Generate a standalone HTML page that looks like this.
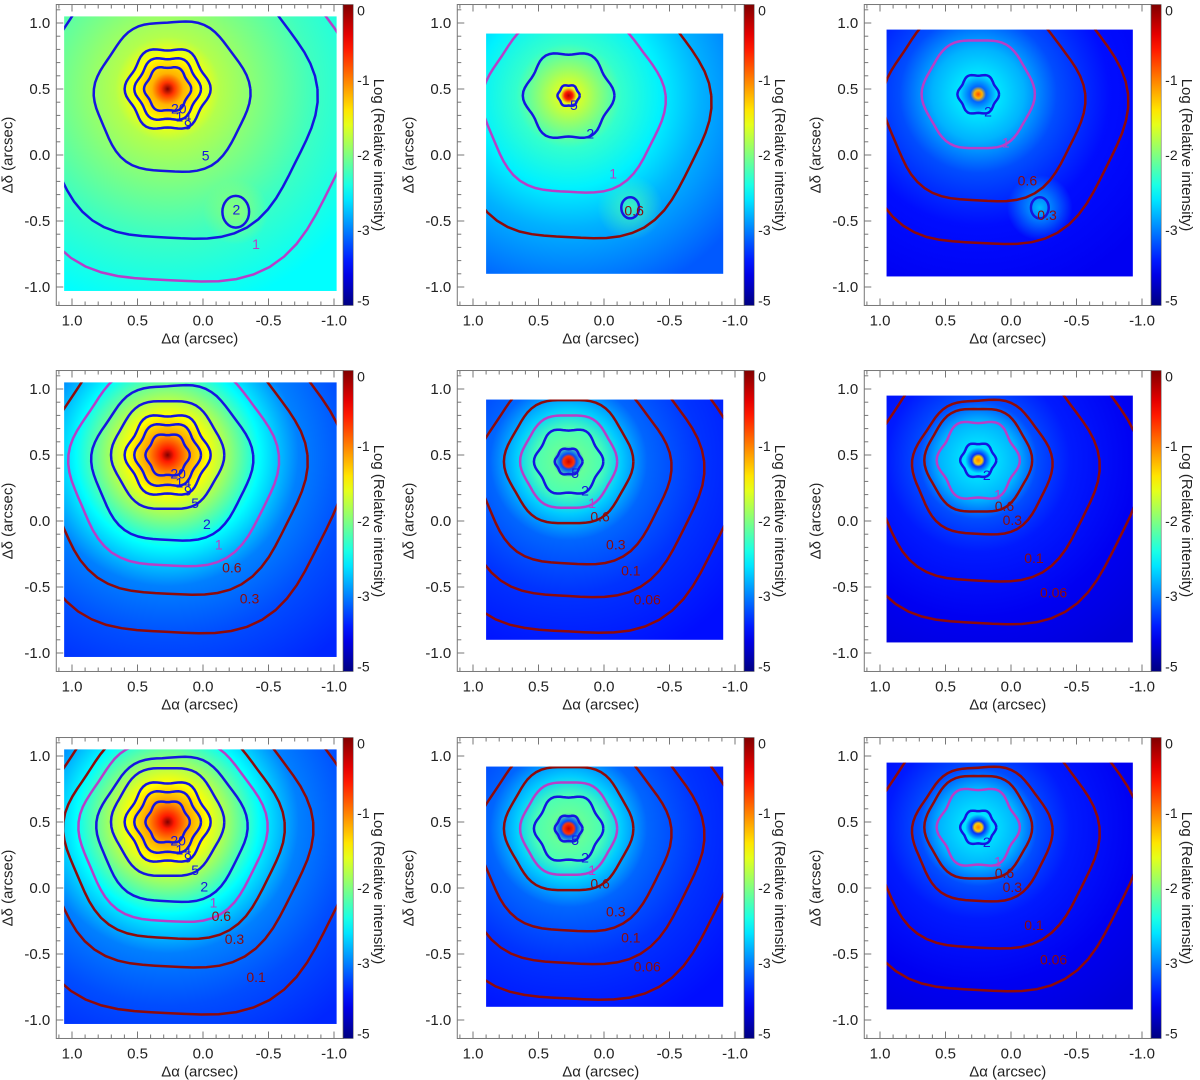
<!DOCTYPE html>
<html><head><meta charset="utf-8"><style>
html,body{margin:0;padding:0;background:#fff;}
svg{display:block;font-family:"Liberation Sans",sans-serif;}
</style></head><body>
<svg id="fig" width="1200" height="1080" viewBox="0 0 1200 1080" xmlns="http://www.w3.org/2000/svg"></svg>
<script>
// ---- data ----
const xTicks = [1.0, 0.5, 0.0, -0.5, -1.0];
const xTickLabels = ["1.0", "0.5", "0.0", "-0.5", "-1.0"];
const yTicks = [1.0, 0.5, 0.0, -0.5, -1.0];
const yTickLabels = ["1.0", "0.5", "0.0", "-0.5", "-1.0"];
const cbarLabels = ["0", "-1", "-2", "-3", "-5"];
const cbarValues = [0, -1, -2, -3, -5];
// star offsets (arcsec) per panel
const starX = [0.27, 0.27, 0.25, 0.27, 0.27, 0.25, 0.27, 0.27, 0.25];
const starY = [0.50, 0.45, 0.46, 0.50, 0.45, 0.46, 0.50, 0.45, 0.46];
// image extents per column [left, right, top, bottom] in arcsec
const extentCol1 = [1.06, -1.02, 1.05, -1.03];
const extentCol2 = [0.9, -0.91, 0.92, -0.90];
const extentCol3 = [0.95, -0.93, 0.95, -0.92];
// radial log-intensity profiles: radius (arcsec) / log value
const profR1 = [0, 0.05, 0.12, 0.25, 0.4, 0.7, 1.1, 1.7];
const profV1 = [0, -0.7, -1.2, -1.5, -1.8, -2.0, -2.25, -2.5];
const profR2 = [0, 0.03, 0.06, 0.2, 0.4, 0.7, 1.0, 1.6];
const profV2 = [-0.2, -0.6, -1.6, -1.9, -2.3, -2.55, -2.8, -3.3];
const profR3 = [0, 0.03, 0.06, 0.15, 0.35, 0.6, 1.0, 1.6];
const profV3 = [-0.8, -1.2, -3.2, -2.6, -2.8, -3.4, -3.9, -4.1];
const profR4 = [0, 0.05, 0.15, 0.3, 0.5, 0.7, 1.0, 1.4, 1.9];
const profV4 = [0, -0.6, -1.1, -1.5, -2.0, -2.5, -3.0, -3.4, -3.7];
const profR5 = [0, 0.04, 0.06, 0.12, 0.25, 0.4, 0.6, 1.0, 1.6];
const profV5 = [-0.3, -0.7, -3.4, -2.1, -2.2, -2.7, -3.2, -3.6, -3.9];
const profR6 = [0, 0.03, 0.05, 0.1, 0.3, 0.45, 0.7, 1.2, 1.7];
const profV6 = [-1.0, -1.3, -3.6, -2.6, -2.8, -3.4, -3.8, -4.1, -4.3];
// contours per panel
const contLevels = [
 ["20","14","9","5","2","1"],
 ["5","2","1","0.6"],
 ["2","1","0.6","0.3"],
 ["20","14","9","5","2","1","0.6","0.3"],
 ["5","2","1","0.6","0.3","0.1","0.06"],
 ["2","1","0.6","0.3","0.1","0.06"],
 ["20","14","9","5","2","1","0.6","0.3","0.1"],
 ["5","2","1","0.6","0.3","0.1","0.06"],
 ["2","1","0.6","0.3","0.1","0.06"]
];
const contRadii = [
 [0.17,0.24,0.31,0.58,1.05,1.35],
 [0.08,0.33,0.68,1.0],
 [0.15,0.42,0.75,1.05],
 [0.16,0.24,0.31,0.42,0.6,0.78,0.98,1.25],
 [0.1,0.25,0.36,0.48,0.72,0.95,1.2],
 [0.13,0.3,0.4,0.52,0.85,1.15],
 [0.16,0.24,0.31,0.42,0.56,0.7,0.82,1.02,1.35],
 [0.1,0.25,0.36,0.48,0.72,0.95,1.2],
 [0.13,0.3,0.4,0.52,0.85,1.15]
];
const contKind = [
 ["b","b","b","b","b","m"],
 ["b","b","m","r"],
 ["b","m","r","r"],
 ["b","b","b","b","b","m","r","r"],
 ["b","b","m","r","r","r","r"],
 ["b","m","r","r","r","r"],
 ["b","b","b","b","b","m","r","r","r"],
 ["b","b","m","r","r","r","r"],
 ["b","m","r","r","r","r"]
];
// companion source (arcsec) in top row
const compX = [-0.25, -0.2, -0.22];
const compY = [-0.43, -0.4, -0.4];
const compR = [0.12, 0.08, 0.08];

// ---- geometry ----
const colZeroX = [203, 604, 1011];
const rowZeroY = [155, 521, 888];
const SX = 131, SY = 132;
const svg = document.getElementById('fig');
const NS = "http://www.w3.org/2000/svg";
function mk(tag, attrs, parent){const e=document.createElementNS(NS,tag);for(const k in attrs)e.setAttribute(k,attrs[k]);(parent||svg).appendChild(e);return e;}
function jet(t){t=Math.max(0,Math.min(1,t));const c=v=>Math.round(255*Math.max(0,Math.min(1,v)));
 return `rgb(${c(1.5-Math.abs(4*t-3))},${c(1.5-Math.abs(4*t-2))},${c(1.5-Math.abs(4*t-1))})`;}
// colorbar is non-linear: 0,-1,-2,-3 equally spaced, then -3..-5 in last quarter
function valT(v){ if(v>=-3) return 1+v/4; return 0.25-(-3-v)/8; }
const colors={b:"#1515e0",m:"#b83ec8",r:"#8e0a0a"};
const profsR=[profR1,profR2,profR3,profR4,profR5,profR6,profR4,profR5,profR6];
const profsV=[profV1,profV2,profV3,profV4,profV5,profV6,profV4,profV5,profV6];
const extents=[extentCol1,extentCol2,extentCol3];
const defs=mk('defs',{});
const cg=mk('linearGradient',{id:'cbg',x1:0,y1:0,x2:0,y2:1},defs);
for(let i=0;i<=20;i++){mk('stop',{offset:i/20,'stop-color':jet(1-i/20)},cg);}

for(let p=0;p<9;p++){
 const row=Math.floor(p/3), col=p%3;
 const zx=colZeroX[col], zy=rowZeroY[row];
 const X=a=>zx-SX*a, Y=d=>zy-SY*d;
 const g=mk('g',{});
 
 
 const axL=X(1.12), axR=X(-1.07), axT=Y(1.14), axB=Y(-1.14);
 const ext=extents[col];
 const gid='rg'+p;
 const rr=2.0*SX;
 const rg=mk('radialGradient',{id:gid,gradientUnits:'userSpaceOnUse',cx:X(starX[p]),cy:Y(starY[p]),r:rr},defs);
 const pr=profsR[p], pv=profsV[p];
 for(let i=0;i<pr.length;i++){mk('stop',{offset:Math.min(1,pr[i]*SX/rr),'stop-color':jet(valT(pv[i]))},rg);}
 mk('clipPath',{id:'cl'+p},defs);
 mk('rect',{x:X(ext[0]),y:Y(ext[2]),width:X(ext[1])-X(ext[0]),height:Y(ext[3])-Y(ext[2])},defs.lastChild);
 const img=mk('rect',{x:X(ext[0]),y:Y(ext[2]),width:X(ext[1])-X(ext[0]),height:Y(ext[3])-Y(ext[2]),fill:`url(#${gid})`},g);
 
 
 const cg2=mk('g',{'clip-path':`url(#cl${p})`},g);
 if(row===0){
  const cgid='cg'+p;
  const crg=mk('radialGradient',{id:cgid,gradientUnits:'userSpaceOnUse',cx:X(compX[col]),cy:Y(compY[col]),r:0.25*SX},defs);
  const base=col===0?-1.9:(col===1?-2.2:-2.6);
  mk('stop',{offset:0,'stop-color':jet(valT(base)),'stop-opacity':0.8},crg);
  mk('stop',{offset:1,'stop-color':jet(valT(base)),'stop-opacity':0},crg);
  mk('circle',{cx:X(compX[col]),cy:Y(compY[col]),r:0.25*SX,fill:`url(#${cgid})`},cg2);
  const cc=mk('ellipse',{cx:X(compX[col]),cy:Y(compY[col]),rx:compR[col]*SX*0.85,ry:compR[col]*SY,fill:'none',stroke:colors.b,'stroke-width':2.5},cg2);
  
  
 }
 const lv=contLevels[p], rads=contRadii[p], kinds=contKind[p];
 for(let i=0;i<lv.length;i++){
  const r0=rads[i]; let d='';
  const wob=r0<0.35?0.06:0.03;
  for(let k=0;k<=72;k++){const th=k/72*2*Math.PI;const rr2=r0*(1+wob*Math.cos(6*th))*(r0>0.5?(1+0.12*Math.sin(th+0.5)):1);
   const px=X(starX[p])+rr2*SX*Math.cos(th), py=Y(starY[p])+rr2*SY*Math.sin(th);
   d+=(k?'L':'M')+px.toFixed(1)+','+py.toFixed(1);}
  const path=mk('path',{d:d,fill:'none',stroke:colors[kinds[i]],'stroke-width':2.5},cg2);
  
  
  const lx=X(starX[p])+r0*SX*0.5, ly=Y(starY[p])+r0*SY*0.87;
  const t=mk('text',{x:lx,y:ly+5,'font-size':14,'text-anchor':'middle',fill:colors[kinds[i]]},cg2);
  t.textContent=lv[i];
 }
 mk('rect',{x:axL,y:axT,width:axR-axL,height:axB-axT,fill:'none',stroke:'#777','stroke-width':1},g);
 for(let v=-1.0;v<=1.1001;v+=0.1){
  const major=Math.abs(Math.round(v*10)%5)===0;
  const L=major?7:4;
  const xp=X(v); if(xp>axL&&xp<axR){mk('line',{x1:xp,x2:xp,y1:axB,y2:axB-L,stroke:'#777'},g);mk('line',{x1:xp,x2:xp,y1:axT,y2:axT+L,stroke:'#777'},g);}
  const yp=Y(v); if(yp>axT&&yp<axB){mk('line',{x1:axL,x2:axL+L,y1:yp,y2:yp,stroke:'#777'},g);}
 }
 for(let i=0;i<xTicks.length;i++){
  const t=mk('text',{x:X(xTicks[i]),y:axB+20,'font-size':15,'text-anchor':'middle',fill:'#222'},g);t.textContent=xTickLabels[i];
  
 }
 for(let i=0;i<yTicks.length;i++){
  const t=mk('text',{x:axL-6,y:Y(yTicks[i])+5,'font-size':15,'text-anchor':'end',fill:'#222'},g);t.textContent=yTickLabels[i];
  
 }
 const xl=mk('text',{x:(axL+axR)/2,y:axB+38,'font-size':15,'text-anchor':'middle',fill:'#222'},g);xl.textContent='Δα (arcsec)';
 
 const yl=mk('text',{x:0,y:0,'font-size':15,'text-anchor':'middle',fill:'#222',transform:`translate(${axL-44},${(axT+axB)/2}) rotate(-90)`},g);yl.textContent='Δδ (arcsec)';
 
 const cbx=axR, cbw=10;
 const cb=mk('rect',{x:cbx,y:axT,width:cbw,height:axB-axT,fill:'url(#cbg)',stroke:'#555','stroke-width':0.5},g);
 
 for(let i=0;i<cbarLabels.length;i++){
  const yy=axT+(axB-axT)*(i/(cbarLabels.length-1));
  const t=mk('text',{x:cbx+cbw+4,y:Math.min(Math.max(yy+5,axT+11),axB),'font-size':14,fill:'#222'},g);t.textContent=cbarLabels[i];
  
 }
 const cl=mk('text',{x:0,y:0,'font-size':15,'text-anchor':'middle',fill:'#222',transform:`translate(${cbx+31},${(axT+axB)/2}) rotate(90)`},g);cl.textContent='Log (Relative intensity)';
 
}
</script>
</body></html>
